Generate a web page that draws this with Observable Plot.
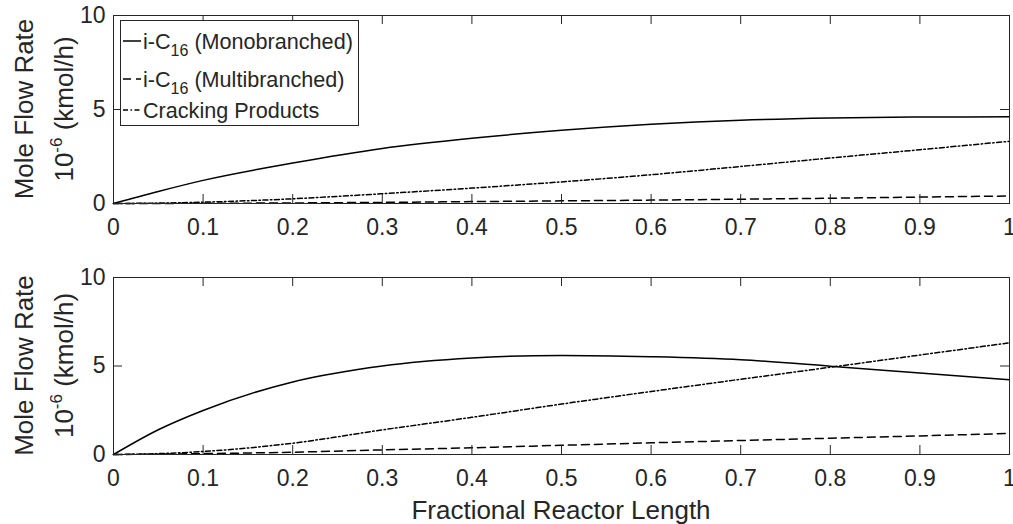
<!DOCTYPE html>
<html><head><meta charset="utf-8">
<script src="https://cdn.jsdelivr.net/npm/d3@7"></script>
<script src="https://cdn.jsdelivr.net/npm/@observablehq/plot@0.6"></script>
<style>body{margin:0;background:#fff} #c svg{display:block}</style>
</head><body><div id="c"></div>
<script>
// ---- data ----
const xs = [0, 0.05, 0.1, 0.2, 0.3, 0.4, 0.5, 0.6, 0.7, 0.8, 0.9, 1.0];
// top panel
const topMono  = [0, 0.64, 1.23, 2.15, 2.93, 3.47, 3.89, 4.21, 4.43, 4.55, 4.6, 4.61];
const topMulti = [0, 0.005, 0.01, 0.03, 0.06, 0.1, 0.14, 0.18, 0.23, 0.28, 0.34, 0.4];
const topCrack = [0, 0.02, 0.07, 0.25, 0.52, 0.82, 1.15, 1.53, 1.97, 2.42, 2.86, 3.31];
// bottom panel
const botMono  = [0, 1.4, 2.49, 4.1, 5.0, 5.45, 5.6, 5.52, 5.35, 4.99, 4.6, 4.22];
const botMulti = [0, 0.02, 0.05, 0.13, 0.26, 0.38, 0.52, 0.66, 0.79, 0.92, 1.05, 1.19];
const botCrack = [0, 0.05, 0.17, 0.64, 1.39, 2.1, 2.85, 3.56, 4.25, 4.93, 5.62, 6.31];

const legendBase = ["i-C", "i-C", "Cracking Products"];
const legendSub  = ["16", "16", ""];
const legendRest = [" (Monobranched)", " (Multibranched)", ""];
const xTicks = [0, 0.1, 0.2, 0.3, 0.4, 0.5, 0.6, 0.7, 0.8, 0.9, 1];
const yTicks = [0, 5, 10];
const xLabel = "Fractional Reactor Length";
const yLabel1 = "Mole Flow Rate";
const yLabelBase = "10", yLabelExp = "-6", yLabelUnit = " (kmol/h)";

// ---- styling ----
const W = 1013;
const INK = "#262626";
const FONT = "'Liberation Sans', Arial, Helvetica, sans-serif";
const dashes = [null, "8,5", "5,2.5,1.5,2.5"];
const ML = 113, MR = 4;

function panel(series, height, marginTop, marginBottom) {
  const marks = [
    ...series.map((vals, i) => Plot.line(xs, {
      x: d => d, y: (d, j) => vals[j],
      stroke: "#000", strokeWidth: 1.5, strokeDasharray: dashes[i], curve: "monotone-x"
    })),
    Plot.ruleX(xTicks, {x: d => d, y1: 0, y2: 0, insetTop: -9, stroke: INK}),
    Plot.ruleX(xTicks, {x: d => d, y1: 10, y2: 10, insetBottom: -9, stroke: INK}),
    Plot.ruleY(yTicks, {y: d => d, x1: 0, x2: 0, insetRight: -9, stroke: INK}),
    Plot.ruleY(yTicks, {y: d => d, x1: 1, x2: 1, insetLeft: -9, stroke: INK}),
    Plot.frame({stroke: INK, strokeWidth: 1}),
    Plot.axisX(xTicks, {tickSize: 0, tickPadding: 15, label: null, fontSize: 23, tickFormat: d => String(d)}),
    Plot.axisY(yTicks, {tickSize: 0, tickPadding: 8, label: null, fontSize: 23, tickFormat: d => String(d)})
  ];
  return Plot.plot({
    width: W, height, marginTop, marginBottom, marginLeft: ML, marginRight: MR,
    x: {domain: [0, 1]}, y: {domain: [0, 10]},
    style: {fontFamily: FONT, fontSize: "23px", color: INK, background: "#fff", overflow: "visible"},
    marks
  });
}

function addYLabel(svg, cy) {
  const g = svg.append("g").attr("transform", `translate(0,${cy}) rotate(-90)`)
    .attr("font-family", FONT).attr("fill", INK).attr("text-anchor", "middle");
  g.append("text").attr("x", 0).attr("y", 33).attr("font-size", 26).text(yLabel1);
  const t = g.append("text").attr("x", 0).attr("y", 73).attr("font-size", 26);
  t.append("tspan").text(yLabelBase);
  t.append("tspan").attr("font-size", 17).attr("dy", -11).text(yLabelExp);
  t.append("tspan").attr("dy", 11).text(yLabelUnit);
}

const topChart = panel([topMono, topMulti, topCrack], 250, 15, 47);
const botChart = panel([botMono, botMulti, botCrack], 274, 27, 70);
document.getElementById("c").append(topChart, botChart);

// y labels
addYLabel(d3.select(topChart), 109);
addYLabel(d3.select(botChart), 115.5);

// x label
const sx = botChart.scale("x");
d3.select(botChart).append("text")
  .attr("x", (sx.range[0] + sx.range[1]) / 2).attr("y", 260)
  .attr("text-anchor", "middle").attr("dominant-baseline", "central")
  .attr("font-family", FONT).attr("font-size", 26).attr("fill", INK)
  .text(xLabel);

// legend (top panel)
const lg = d3.select(topChart).append("g").attr("font-family", FONT).attr("fill", INK)
  .attr("text-anchor", "start");
lg.append("rect").attr("x", 120.5).attr("y", 20.5).attr("width", 238).attr("height", 105)
  .attr("fill", "#fff").attr("stroke", INK).attr("stroke-width", 1);
const rowY = [41, 79, 110];
legendBase.forEach((b, i) => {
  lg.append("line").attr("x1", 123).attr("x2", 141).attr("y1", rowY[i]).attr("y2", rowY[i])
    .attr("stroke", "#000").attr("stroke-width", 1.5).attr("stroke-dasharray", dashes[i]);
  const t = lg.append("text").attr("x", 143).attr("y", rowY[i]).attr("text-anchor", "start")
    .attr("dominant-baseline", "central").attr("font-size", 21.6);
  t.append("tspan").text(b);
  if (legendSub[i]) {
    t.append("tspan").attr("font-size", 16).attr("dy", 9).text(legendSub[i]);
    t.append("tspan").attr("dy", -9).text(legendRest[i]);
  }
});
</script></body></html>
